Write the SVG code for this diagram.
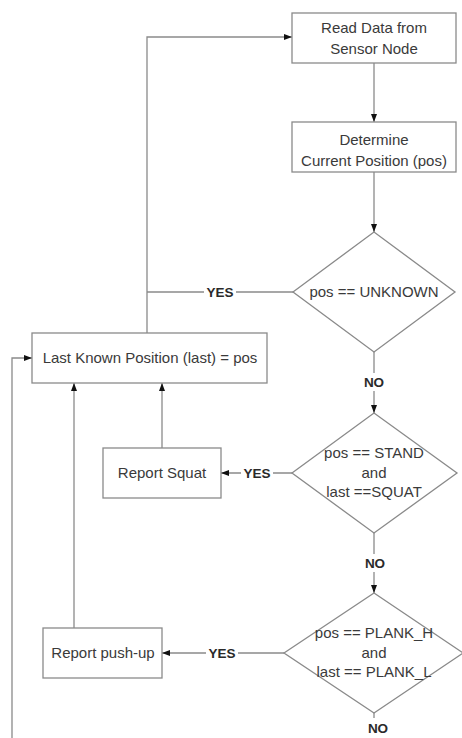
<svg xmlns="http://www.w3.org/2000/svg" width="462" height="738" viewBox="0 0 462 738">
<style>
.box{fill:#fff;stroke:#8a8a8a;stroke-width:1.3}
.t{font-family:"Liberation Sans",Arial,sans-serif;font-size:15px;fill:#3a3a3a;text-anchor:middle}
.lbl{font-family:"Liberation Sans",Arial,sans-serif;font-size:13.5px;font-weight:bold;fill:#2a2a2a;text-anchor:middle}
.c{fill:none;stroke:#8a8a8a;stroke-width:1.3}
.bg{fill:#fff}
</style>
<defs>
<marker id="ah" markerUnits="userSpaceOnUse" markerWidth="8" markerHeight="8" viewBox="0 0 8 8" refX="8" refY="4" orient="auto">
<path d="M0,1 L8,4 L0,7 Z" fill="#111"/>
</marker>
</defs>
<rect width="462" height="738" fill="#fff"/>
<g id="connectors">
<path class="c" d="M374,63 V122" marker-end="url(#ah)"/>
<path class="c" d="M374,172 V232" marker-end="url(#ah)"/>
<path class="c" d="M293,292 H147"/>
<path class="c" d="M147,333 V37 H292" marker-end="url(#ah)"/>
<path class="c" d="M374,352 V413" marker-end="url(#ah)"/>
<path class="c" d="M292,473 H221" marker-end="url(#ah)"/>
<path class="c" d="M162,448 V383" marker-end="url(#ah)"/>
<path class="c" d="M374,533 V593" marker-end="url(#ah)"/>
<path class="c" d="M284,653 H162" marker-end="url(#ah)"/>
<path class="c" d="M74,628 V383" marker-end="url(#ah)"/>
<path class="c" d="M374,713 V718"/>
<path class="c" d="M12,738 V358 H32" marker-end="url(#ah)"/>
<rect class="bg" x="204" y="284" width="32" height="16"/>
<text class="lbl" x="220" y="297">YES</text>
<rect class="bg" x="362" y="373" width="24" height="18"/>
<text class="lbl" x="374" y="387">NO</text>
<rect class="bg" x="241" y="465" width="32" height="16"/>
<text class="lbl" x="257" y="478">YES</text>
<rect class="bg" x="363" y="554" width="24" height="18"/>
<text class="lbl" x="375" y="568">NO</text>
<rect class="bg" x="206" y="645" width="32" height="16"/>
<text class="lbl" x="222" y="658">YES</text>
<text class="lbl" x="378" y="733">NO</text>
</g>
<g id="read-data">
<rect class="box" x="292" y="13" width="164" height="50"/>
<text class="t" x="374" y="33">Read Data from</text>
<text class="t" x="374" y="54">Sensor Node</text>
</g>
<g id="determine-position">
<rect class="box" x="292" y="122" width="164" height="50"/>
<text class="t" x="374" y="145">Determine</text>
<text class="t" x="374" y="166">Current Position (pos)</text>
</g>
<g id="decision-unknown">
<polygon class="box" points="293,292 374,232 455,292 374,352"/>
<text class="t" x="374" y="297">pos == UNKNOWN</text>
</g>
<g id="last-known">
<rect class="box" x="32" y="333" width="235" height="50"/>
<text class="t" x="150" y="363">Last Known Position (last) = pos</text>
</g>
<g id="decision-squat">
<polygon class="box" points="292,473 374,413 457,473 374,533"/>
<text class="t" x="374" y="458">pos == STAND</text>
<text class="t" x="374" y="478">and</text>
<text class="t" x="374" y="497">last ==SQUAT</text>
</g>
<g id="report-squat">
<rect class="box" x="103" y="448" width="118" height="50"/>
<text class="t" x="162" y="478">Report Squat</text>
</g>
<g id="decision-pushup">
<polygon class="box" points="284,653 374,593 463,653 374,713"/>
<text class="t" x="374" y="638">pos == PLANK_H</text>
<text class="t" x="374" y="658">and</text>
<text class="t" x="374" y="677">last == PLANK_L</text>
</g>
<g id="report-pushup">
<rect class="box" x="43" y="628" width="119" height="50"/>
<text class="t" x="103" y="658">Report push-up</text>
</g>
</svg>
